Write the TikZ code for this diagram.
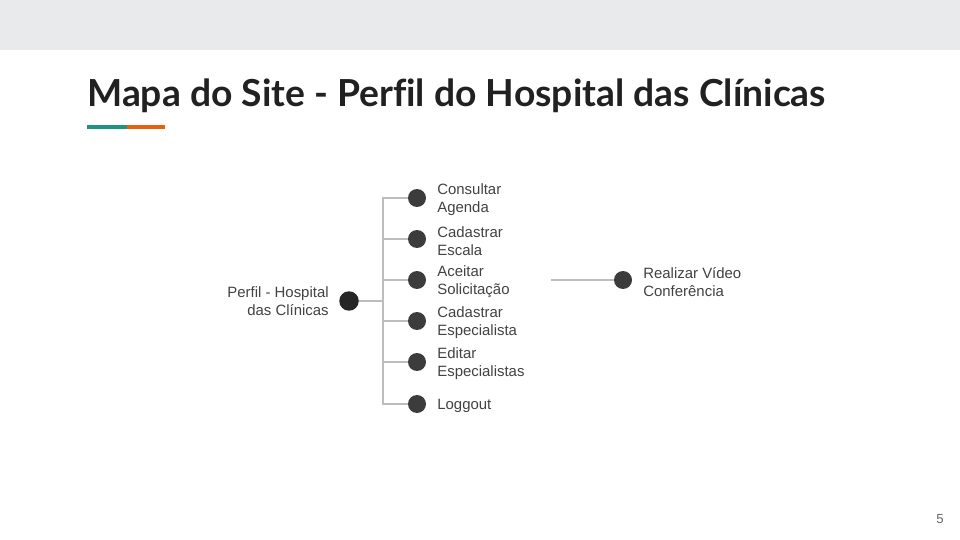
\documentclass[tikz,border=0pt]{standalone}
\usepackage{fontspec}
\setmainfont{Liberation Sans}
\newfontfamily\titlefont[Ligatures=NoCommon]{Lato}
\usetikzlibrary{positioning}

\definecolor{bandgray}{HTML}{E8EAEB}
\definecolor{titleink}{HTML}{212121}
\definecolor{textink}{HTML}{424242}
\definecolor{dotgray}{HTML}{3C3C3C}
\definecolor{linegray}{HTML}{BDBDBD}
\definecolor{accentteal}{HTML}{1E9480}
\definecolor{accentorange}{HTML}{E8600C}

\tikzset{
  dot/.style={circle,fill=dotgray,inner sep=0pt,minimum size=0.36cm},
  rootdot/.style={dot,fill=black!85,minimum size=0.39cm},
  item/.style={anchor=west,inner sep=0pt,align=left,text=textink,yshift=-0.04cm,
    font=\fontsize{8.5}{10.3}\selectfont},
  conn/.style={draw=linegray,line width=0.6pt}
}

\begin{document}
\begin{tikzpicture}[x=0.02cm,y=-0.02cm]
	\useasboundingbox (0,0) rectangle (960,540);
	\fill[white] (0,0) rectangle (960,540);
	\fill[bandgray] (0,0) rectangle (960,50);

	% title
	\node[anchor=base west,inner sep=0pt,text=titleink,font=\titlefont\bfseries\fontsize{21.2}{25}\selectfont] (title) at (87,107) {Mapa do Site - Perfil do Hospital das Clínicas};
	\fill[accentteal] (87,125) rectangle (127,129);
	\fill[accentorange] (127,125) rectangle (165,129);

	% tree
	\node[rootdot] (root) at (349,301) {};
	\node[anchor=east,inner sep=0pt,align=right,text=textink,font=\fontsize{8.5}{10.3}\selectfont] (rootlabel) at (329,301) {Perfil - Hospital\\das Clínicas};
	\coordinate (trunk) at (383,301);

	\node[dot] (consultar) at (417,198) {};
	\node[dot] (escala) at (417,239) {};
	\node[dot] (aceitar) at (417,280) {};
	\node[dot] (especialista) at (417,321) {};
	\node[dot] (editar) at (417,362) {};
	\node[dot] (loggout) at (417,404) {};

	\node[item] (consultarlabel) at (437,198) {Consultar\\Agenda};
	\node[item] (escalalabel) at (437,239) {Cadastrar\\Escala};
	\node[item] (aceitarlabel) at (437,280) {Aceitar\\Solicitação};
	\node[item] (especialistalabel) at (437,321) {Cadastrar\\Especialista};
	\node[item] (editarlabel) at (437,362) {Editar\\Especialistas};
	\node[item] (loggoutlabel) at (437,404) {Loggout};

	\draw[conn] (root) -- (trunk);
	\foreach \leaf in {consultar,escala,aceitar,especialista,editar,loggout}
		\draw[conn] (trunk) |- (\leaf);

	% second level
	\coordinate (aceitarend) at (551,280);
	\node[dot] (realizar) at (623,280) {};
	\node[item] (realizarlabel) at (643,280) {Realizar Vídeo\\Conferência};
	\draw[conn] (aceitarend) -- (realizar);

	% page number
	\node[text=black!60,font=\fontsize{7.5}{9}\selectfont] (pagenum) at (940,519) {5};
\end{tikzpicture}
\end{document}
